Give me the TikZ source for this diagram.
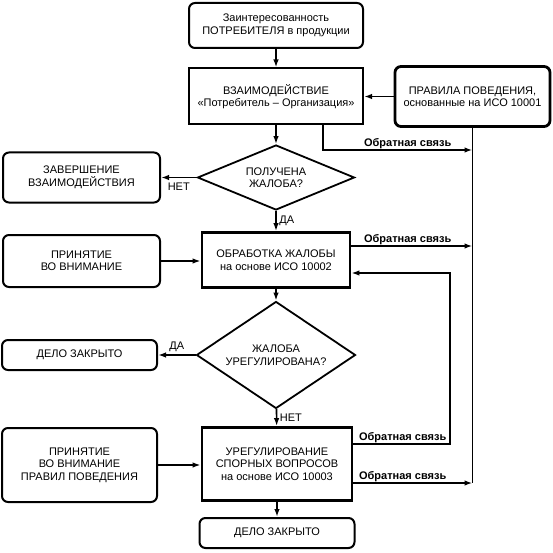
\documentclass[tikz,border=0pt]{standalone}
\usepackage{fontspec}
\setmainfont{Liberation Sans}
\usetikzlibrary{shapes.geometric}
\usetikzlibrary{arrows.meta}
\usetikzlibrary{calc}

\begin{document}
\begin{tikzpicture}[x=1pt,y=-1pt,
        font=\fontsize{11}{12.5}\selectfont,
        >={Latex[length=8pt,width=5.5pt]},
        line/.style={line width=1.6pt},
        roundbox/.style={draw, line width=2pt, rounded corners=6pt, align=center, inner sep=0pt},
        plainbox/.style={draw, line width=2pt, align=center, inner sep=0pt},
        boldbox/.style={draw, line width=2.8pt, align=center, inner sep=0pt},
        decision/.style={draw, diamond, line width=1.8pt, align=center, inner sep=0pt},
        fblabel/.style={font=\fontsize{11}{12}\selectfont\bfseries, anchor=south east, inner sep=1.5pt},
        answer/.style={inner sep=2.5pt}]
            \useasboundingbox (0,0) rectangle (553,553);
            % main column
            \node[roundbox, minimum width=174pt, minimum height=45pt] (interest) at (276, 25.5) {Заинтересованность\\ПОТРЕБИТЕЛЯ в продукции};
            \node[plainbox, minimum width=174pt, minimum height=56pt] (interact) at (276, 96.5) {ВЗАИМОДЕЙСТВИЕ\\«Потребитель – Организация»};
            \node[decision, minimum width=157pt, minimum height=65pt, aspect=2.4] (received) at (276,177.5) {ПОЛУЧЕНА\\ЖАЛОБА?};
            \node[boldbox, minimum width=148pt, minimum height=55pt] (handling) at (276,260.0) {ОБРАБОТКА ЖАЛОБЫ\\на основе ИСО 10002};
            \node[decision, minimum width=159pt, minimum height=107pt, aspect=1.5] (settled) at (276,355.0) {ЖАЛОБА\\УРЕГУЛИРОВАНА?};
            \node[boldbox, minimum width=150pt, minimum height=73pt] (dispute) at (277,464.0) {УРЕГУЛИРОВАНИЕ\\СПОРНЫХ ВОПРОСОВ\\на основе ИСО 10003};
            \node[roundbox, minimum width=155pt, minimum height=30pt] (closedB) at (277,533.0) {ДЕЛО ЗАКРЫТО};
            % side boxes
            \node[roundbox, line width=2.8pt, minimum width=155pt, minimum height=60pt] (rules) at (472.5,96.5) {ПРАВИЛА ПОВЕДЕНИЯ,\\основанные на ИСО 10001};
            \node[roundbox, minimum width=157pt, minimum height=50pt] (finish) at (81.5,177.5) {ЗАВЕРШЕНИЕ\\ВЗАИМОДЕЙСТВИЯ};
            \node[roundbox, minimum width=157pt, minimum height=52pt] (noteA) at (81.5,261.0) {ПРИНЯТИЕ\\ВО ВНИМАНИЕ};
            \node[roundbox, minimum width=155pt, minimum height=30pt] (closedA) at (79.5,355.0) {ДЕЛО ЗАКРЫТО};
            \node[roundbox, minimum width=155pt, minimum height=74pt] (noteB) at (79.5,465.0) {ПРИНЯТИЕ\\ВО ВНИМАНИЕ\\ПРАВИЛ ПОВЕДЕНИЯ};
            % flow
            \draw[line,->] (interest) -- (interact);
            \draw[line,->] (rules) -- (interact);
            \draw[line,->] (interact) -- (received);
            \draw[line,->] (received) -- node[answer, below, yshift=-2pt] (noA) {НЕТ} (finish);
            \draw[line,->] (received) -- node[answer, right] (yesA) {ДА} (handling);
            \draw[line,->] (noteA) -- (noteA -| handling.west);
            \draw[line,->] (handling) -- (settled);
            \draw[line,->] (settled) -- node[answer, above] (yesB) {ДА} (closedA);
            \draw[line,->] (settled) -- node[answer, right] (noB) {НЕТ} (dispute);
            \draw[line,->] (noteB) -- (noteB -| dispute.west);
            \draw[line,->] (dispute) -- (closedB);
            % feedback
            \coordinate (rulesend) at (rules.south |- 0,483);
            \coordinate (loop) at (450,273);
            \draw[line] (rules) -- (rulesend);
            \draw[line,->] ($(interact.south)+(47,0)$) |- (rules.south |- 0,150);
            \draw[line,->] (handling.east |- 0,246) -- (rules.south |- 0,246);
            \draw[line,->] (dispute.east |- 0,444) -| (loop) -- (handling.east |- loop);
            \draw[line,->] (dispute.east |- rulesend) -- (rulesend);
            \node[fblabel] (fbA) at (453,150) {Обратная связь};
            \node[fblabel] (fbB) at (453,246) {Обратная связь};
            \node[fblabel] (fbC) at (448,444) {Обратная связь};
            \node[fblabel] (fbD) at (448,483) {Обратная связь};
\end{tikzpicture}
\end{document}
